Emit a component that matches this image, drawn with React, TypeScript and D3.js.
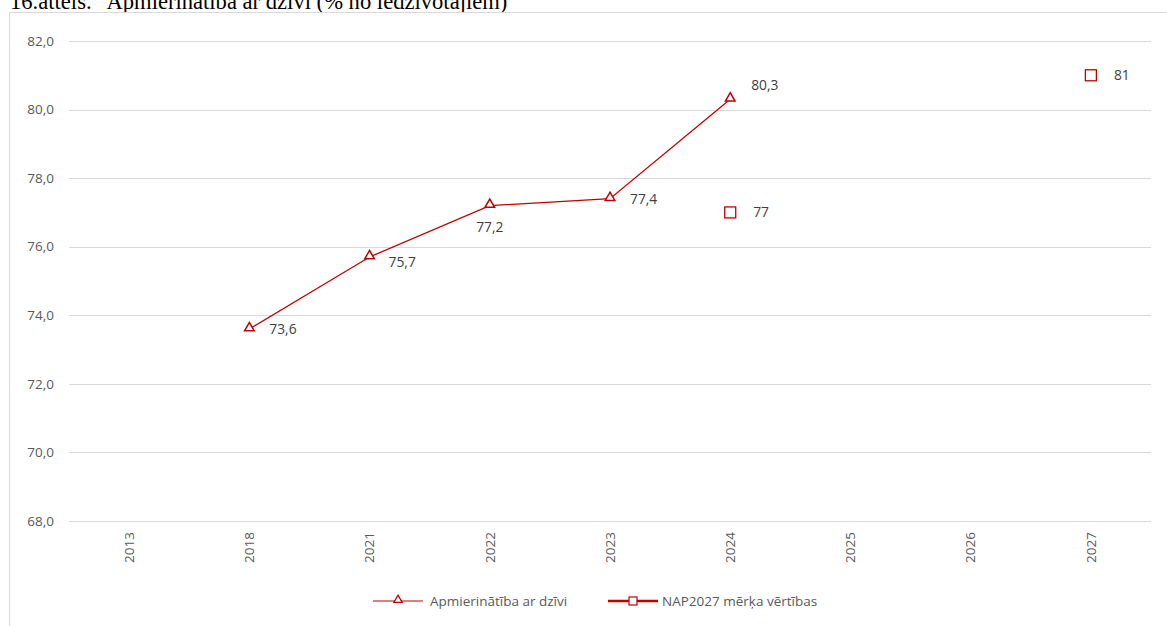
import React, { useEffect, useRef } from 'react';
import * as d3 from 'd3';

// categories on the x axis
const years = ['2013', '2018', '2021', '2022', '2023', '2024', '2025', '2026', '2027'];

// Apmierinātība ar dzīvi
const lifeYears = ['2018', '2021', '2022', '2023', '2024'];
const lifeValues = [73.6, 75.7, 77.2, 77.4, 80.3];

// NAP2027 mērķa vērtības
const targetYears = ['2024', '2027'];
const targetValues = [77, 81];

const yTicks = [68, 70, 72, 74, 76, 78, 80, 82];

const titleText = '16.attēls. "Apmierinātība ar dzīvi (% no iedzīvotājiem)"';
const legendLabels = ['Apmierinātība ar dzīvi', 'NAP2027 mērķa vērtības'];

const RED = '#C00000';
const FONT = 'Open Sans, Liberation Sans, sans-serif';

export default function App() {
  const ref = useRef<SVGSVGElement>(null);

  useEffect(() => {
    const W = 1167, H = 626;
    const margin = { top: 41, left: 69, right: 16, bottom: 105 };
    const svg = d3.select(ref.current);
    svg.selectAll('*').remove();

    svg.append('rect').attr('width', W).attr('height', H).attr('fill', '#fff');

    // title, its top cut by the page edge as in the source
    svg.append('text')
      .attr('x', 10).attr('y', 9)
      .attr('font-family', 'Liberation Serif, Times New Roman, serif')
      .attr('font-size', 22.6)
      .attr('fill', '#000')
      .text(titleText);

    // chart area border
    svg.append('rect')
      .attr('x', 9.5).attr('y', 12.5)
      .attr('width', W + 10).attr('height', H + 10)
      .attr('fill', '#fff').attr('stroke', '#d9d9d9');

    const x = d3.scaleBand().domain(years).range([margin.left, W - margin.right]);
    const y = d3.scaleLinear().domain([68, 82]).range([H - margin.bottom, margin.top]);
    const cx = (d: string) => (x(d) as number) + x.bandwidth() / 2;

    // gridlines
    svg.append('g').selectAll('line').data(yTicks).join('line')
      .attr('x1', margin.left).attr('x2', W - margin.right)
      .attr('y1', d => Math.round(y(d)) + 0.5).attr('y2', d => Math.round(y(d)) + 0.5)
      .attr('stroke', '#d9d9d9').attr('stroke-width', 1);

    // y tick labels
    svg.append('g').selectAll('text').data(yTicks).join('text')
      .attr('x', 54).attr('y', d => y(d)).attr('dy', '0.35em')
      .attr('text-anchor', 'end')
      .attr('font-family', FONT).attr('font-size', 13.5).attr('fill', '#595959')
      .text(d => d3.format('.1f')(d).replace('.', ','));

    // x tick labels (rotated)
    svg.append('g').selectAll('text').data(years).join('text')
      .attr('transform', d => `translate(${cx(d)},${H - margin.bottom + 11}) rotate(-90)`)
      .attr('text-anchor', 'end').attr('dy', '0.35em')
      .attr('font-family', FONT).attr('font-size', 13.5).attr('fill', '#595959')
      .text(d => d);

    // life satisfaction line
    const lifeData = lifeYears.map((yr, i) => ({ yr, v: lifeValues[i] }));
    const line = d3.line<{ yr: string; v: number }>().x(d => cx(d.yr)).y(d => y(d.v));
    svg.append('path').datum(lifeData)
      .attr('d', line).attr('fill', 'none').attr('stroke', RED).attr('stroke-width', 1.3);

    const tri = d3.symbol().type(d3.symbolTriangle).size(40);
    svg.append('g').selectAll('path').data(lifeData).join('path')
      .attr('d', tri)
      .attr('transform', d => `translate(${cx(d.yr)},${y(d.v) - 1})`)
      .attr('fill', '#fff').attr('stroke', RED).attr('stroke-width', 1.5);

    // label positions: r = right, br = below-right, b = below, ar = above-right
    const lifePos = ['r', 'br', 'b', 'r', 'ar'];
    svg.append('g').selectAll('text').data(lifeData).join('text')
      .attr('x', (d, i) => {
        const p = lifePos[i];
        if (p === 'b') return cx(d.yr);
        if (p === 'br') return cx(d.yr) + 19;
        if (p === 'ar') return cx(d.yr) + 21;
        return cx(d.yr) + 20;
      })
      .attr('y', (d, i) => {
        const p = lifePos[i];
        if (p === 'b') return y(d.v) + 22;
        if (p === 'br') return y(d.v) + 5;
        if (p === 'ar') return y(d.v) - 14;
        return y(d.v);
      })
      .attr('dy', '0.35em')
      .attr('text-anchor', (d, i) => (lifePos[i] === 'b' ? 'middle' : 'start'))
      .attr('font-family', FONT).attr('font-size', 13.8).attr('fill', '#404040')
      .text(d => d3.format('.1f')(d.v).replace('.', ','));

    // target markers
    const targetData = targetYears.map((yr, i) => ({ yr, v: targetValues[i] }));
    svg.append('g').selectAll('rect').data(targetData).join('rect')
      .attr('x', d => cx(d.yr) - 5.5).attr('y', d => y(d.v) - 5.5)
      .attr('width', 11).attr('height', 11)
      .attr('fill', '#fff').attr('stroke', RED).attr('stroke-width', 1.3);
    svg.append('g').selectAll('text').data(targetData).join('text')
      .attr('x', d => cx(d.yr) + 23).attr('y', d => y(d.v)).attr('dy', '0.35em')
      .attr('font-family', FONT).attr('font-size', 13.8).attr('fill', '#404040')
      .text(d => String(d.v));

    // legend
    const ly = 601;
    const lg = svg.append('g');
    lg.append('line').attr('x1', 373).attr('x2', 423).attr('y1', ly).attr('y2', ly)
      .attr('stroke', RED).attr('stroke-width', 1.2);
    lg.append('path').attr('d', d3.symbol().type(d3.symbolTriangle).size(30))
      .attr('transform', `translate(398,${ly - 1})`)
      .attr('fill', '#fff').attr('stroke', RED).attr('stroke-width', 1.3);
    lg.append('text').attr('x', 430).attr('y', ly).attr('dy', '0.35em')
      .attr('font-family', FONT).attr('font-size', 13.5).attr('fill', '#595959')
      .text(legendLabels[0]);
    lg.append('line').attr('x1', 608).attr('x2', 658).attr('y1', ly).attr('y2', ly)
      .attr('stroke', RED).attr('stroke-width', 2.5);
    lg.append('rect').attr('x', 629).attr('y', ly - 4).attr('width', 8).attr('height', 8)
      .attr('fill', '#fff').attr('stroke', RED).attr('stroke-width', 1.2);
    lg.append('text').attr('x', 662).attr('y', ly).attr('dy', '0.35em')
      .attr('font-family', FONT).attr('font-size', 13.5).attr('fill', '#595959')
      .text(legendLabels[1]);
  }, []);

  return (
    <svg ref={ref} width={1167} height={626}
      style={{ position: 'absolute', left: 0, top: 0, display: 'block' }} />
  );
}
